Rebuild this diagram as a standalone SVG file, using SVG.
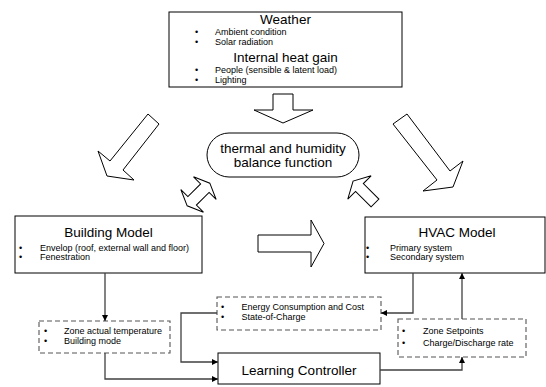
<svg xmlns="http://www.w3.org/2000/svg" width="546" height="387" viewBox="0 0 546 387">
<style>
.box{fill:#fff;stroke:#000;stroke-width:1}
.dbox{fill:#fff;stroke:#555;stroke-width:1.1;stroke-dasharray:5,3}
.blk{fill:#fff;stroke:#000;stroke-width:1;stroke-linejoin:miter}
.ttl{font-family:"Liberation Sans",Arial,sans-serif;font-size:13.5px;fill:#000;text-anchor:middle}
.itm{font-family:"Liberation Sans",Arial,sans-serif;font-size:9px;fill:#000}
.con{fill:none;stroke:#404040;stroke-width:1.3}
</style>
<defs>
<marker id="ah" viewBox="0 0 10 10" refX="10" refY="5" markerWidth="6" markerHeight="6" markerUnits="userSpaceOnUse" orient="auto">
<path d="M0,0 L10,5 L0,10 z" fill="#000"/>
</marker>
</defs>
<rect width="546" height="387" fill="#fff"/>

<g id="weather">
<rect class="box" x="169" y="12" width="233" height="75"/>
<text class="ttl" x="285.5" y="24">Weather</text>
<text class="itm" x="195" y="35">•</text><text class="itm" x="215" y="35">Ambient condition</text>
<text class="itm" x="195" y="45">•</text><text class="itm" x="215" y="45">Solar radiation</text>
<text class="ttl" x="285.5" y="62">Internal heat gain</text>
<text class="itm" x="195" y="73">•</text><text class="itm" x="215" y="73">People (sensible &amp; latent load)</text>
<text class="itm" x="195" y="83">•</text><text class="itm" x="215" y="83">Lighting</text>
</g>

<g id="balance">
<rect class="box" x="207" y="133" width="152" height="44" rx="22" ry="22"/>
<text class="ttl" x="283" y="152.5">thermal and humidity</text>
<text class="ttl" x="283" y="166.5">balance function</text>
</g>

<g id="building">
<rect class="box" x="15" y="216" width="187" height="57"/>
<text class="ttl" x="108.5" y="237">Building Model</text>
<text class="itm" x="19" y="250.5">•</text><text class="itm" x="40" y="250.5">Envelop (roof, external wall and floor)</text>
<text class="itm" x="19" y="260">•</text><text class="itm" x="40" y="260">Fenestration</text>
</g>

<g id="hvac">
<rect class="box" x="365" y="217" width="180" height="56"/>
<text class="ttl" x="457" y="237">HVAC Model</text>
<text class="itm" x="366" y="250.5">•</text><text class="itm" x="390" y="250.5">Primary system</text>
<text class="itm" x="366" y="260">•</text><text class="itm" x="390" y="260">Secondary system</text>
</g>

<g id="zoneactual">
<rect class="dbox" x="39" y="321" width="131" height="32"/>
<text class="itm" x="44" y="334">•</text><text class="itm" x="64" y="334">Zone actual temperature</text>
<text class="itm" x="44" y="344">•</text><text class="itm" x="64" y="344">Building mode</text>
</g>

<g id="energy">
<rect class="dbox" x="217" y="297" width="164" height="33"/>
<text class="itm" x="221" y="310">•</text><text class="itm" x="241.5" y="310">Energy Consumption and Cost</text>
<text class="itm" x="221" y="320">•</text><text class="itm" x="241.5" y="320">State-of-Charge</text>
</g>

<g id="setpoints">
<rect class="dbox" x="398" y="319" width="128" height="38"/>
<text class="itm" x="402" y="334">•</text><text class="itm" x="423" y="334">Zone Setpoints</text>
<text class="itm" x="402" y="346">•</text><text class="itm" x="423" y="346">Charge/Discharge rate</text>
</g>

<g id="controller">
<rect class="box" x="218" y="353" width="162" height="31"/>
<text class="ttl" x="299" y="375">Learning Controller</text>
</g>

<g id="block-arrows">
<polygon class="blk" points="273,94 293,94 293,110 313,110 283,123 254,110 273,110"/>
<polygon class="blk" points="148,114 159,124 123,170 134,180 107,176 98,151 110,161"/>
<polygon class="blk" points="393,124 407,114 450,171 463,161 453,187 423,191 437,180"/>
<polygon class="blk" points="258,235 311,235 311,220 324,243.5 311,267 311,252 258,252"/>
<polygon class="blk" transform="translate(198.5,194.5) rotate(-45)" points="16,0 9,16 9,6 -9,6 -9,16 -16,0 -9,-16 -9,-6 9,-6 9,-16"/>
<polygon class="blk" transform="translate(375,203) rotate(-135)" points="0,-5.5 22,-5.5 22,-16.5 31,0 22,16.5 22,5.5 0,5.5"/>
</g>

<g id="connectors">
<path class="con" d="M105,273 V321" marker-end="url(#ah)"/>
<path class="con" d="M105,353 V379 H218" marker-end="url(#ah)"/>
<path class="con" d="M217,313 H181 V362 H218" marker-end="url(#ah)"/>
<path class="con" d="M413,273 V313 H381" marker-end="url(#ah)"/>
<path class="con" d="M462,319 V273" marker-end="url(#ah)"/>
<path class="con" d="M380,370 H462 V357" marker-end="url(#ah)"/>
</g>
</svg>
